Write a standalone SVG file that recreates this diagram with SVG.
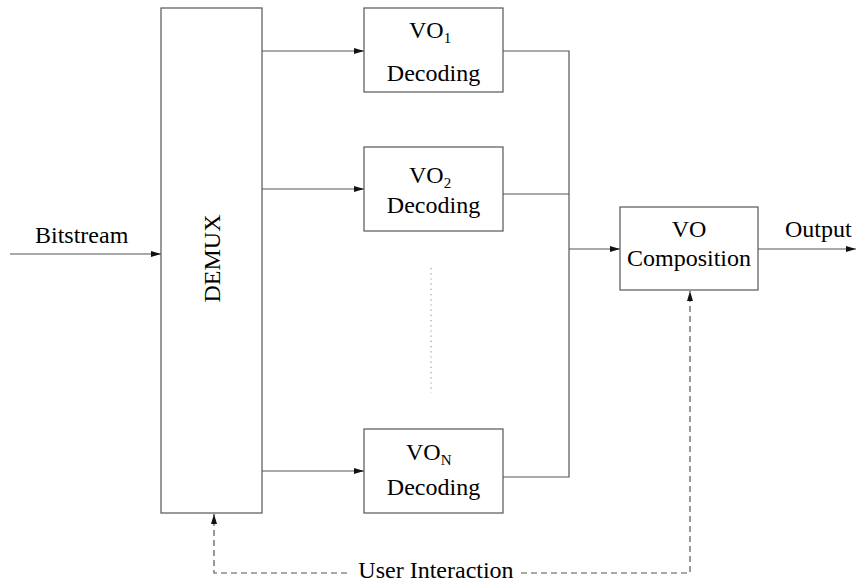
<svg xmlns="http://www.w3.org/2000/svg" width="856" height="583" viewBox="0 0 856 583">
<defs>
<marker id="ah" viewBox="0 0 10 6" refX="10" refY="3" markerWidth="10" markerHeight="6" markerUnits="userSpaceOnUse" orient="auto">
<path d="M0,0 L10,3 L0,6 z" fill="#111"/>
</marker>
</defs>
<style>
.box{fill:#fff;stroke:#555;stroke-width:1.2}
.ln{fill:none;stroke:#555;stroke-width:1.2}
.dash{fill:none;stroke:#555;stroke-width:1.2;stroke-dasharray:6,4}
</style>
<rect width="856" height="583" fill="#fff"/>
<g id="connectors">
<line class="ln" x1="10" y1="254" x2="161" y2="254" marker-end="url(#ah)"/>
<line class="ln" x1="262" y1="51" x2="364" y2="51" marker-end="url(#ah)"/>
<line class="ln" x1="262" y1="189" x2="364" y2="189" marker-end="url(#ah)"/>
<line class="ln" x1="262" y1="471" x2="364" y2="471" marker-end="url(#ah)"/>
<polyline class="ln" points="503,51 569,51 569,477 503,477"/>
<line class="ln" x1="503" y1="194" x2="569" y2="194"/>
<line class="ln" x1="569" y1="249" x2="620" y2="249" marker-end="url(#ah)"/>
<line class="ln" x1="758" y1="249" x2="856" y2="249" marker-end="url(#ah)"/>
<line x1="431" y1="268" x2="431" y2="393" stroke="#999" stroke-width="1.2" stroke-dasharray="1.2,4"/>
<polyline class="dash" points="521,573 690,573 690,291"/>
<polyline class="dash" points="347,573 214,573 214,514"/>
<path d="M690,291 l-3,10 h6 z" fill="#111"/>
<path d="M214,514 l-3,10 h6 z" fill="#111"/>
<g font-family="Liberation Serif, Times New Roman, serif" font-size="24" fill="#000">
<text x="35" y="243">Bitstream</text>
<text x="785" y="237">Output</text>
<text x="436" y="578" text-anchor="middle">User Interaction</text>
</g>
</g>
<g id="demux" font-family="Liberation Serif, Times New Roman, serif" font-size="24" fill="#000">
<rect class="box" x="161" y="8" width="101" height="505"/>
<text transform="translate(220,258.5) rotate(-90)" text-anchor="middle">DEMUX</text>
</g>
<g id="vo1" font-family="Liberation Serif, Times New Roman, serif" font-size="24" fill="#000">
<rect class="box" x="364" y="8" width="139" height="84"/>
<text x="409" y="38">VO<tspan font-size="15" dy="5">1</tspan></text>
<text x="433.5" y="81" text-anchor="middle">Decoding</text>
</g>
<g id="vo2" font-family="Liberation Serif, Times New Roman, serif" font-size="24" fill="#000">
<rect class="box" x="364" y="147" width="139" height="84"/>
<text x="409" y="183">VO<tspan font-size="15" dy="5">2</tspan></text>
<text x="433.5" y="213" text-anchor="middle">Decoding</text>
</g>
<g id="von" font-family="Liberation Serif, Times New Roman, serif" font-size="24" fill="#000">
<rect class="box" x="364" y="429" width="139" height="84"/>
<text x="406" y="460">VO<tspan font-size="15" dy="5">N</tspan></text>
<text x="433.5" y="495" text-anchor="middle">Decoding</text>
</g>
<g id="composition" font-family="Liberation Serif, Times New Roman, serif" font-size="24" fill="#000">
<rect class="box" x="620" y="207" width="138" height="83"/>
<text x="689" y="237" text-anchor="middle">VO</text>
<text x="689" y="266" text-anchor="middle">Composition</text>
</g>
</svg>
